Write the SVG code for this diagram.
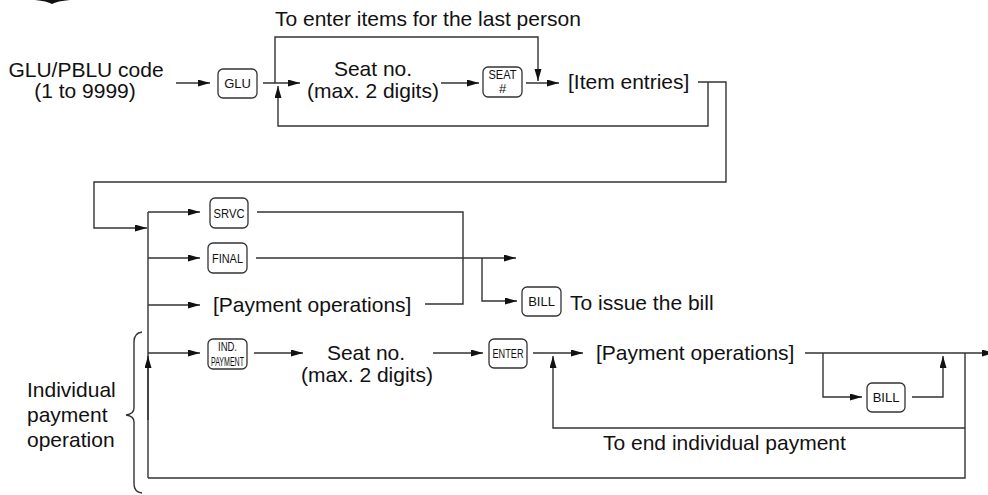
<svg xmlns="http://www.w3.org/2000/svg" width="988" height="495" viewBox="0 0 988 495">
<style>
  .t{font-family:"Liberation Sans",Arial,Helvetica,sans-serif;font-size:21px;fill:#111}
  .c{text-anchor:middle}
  .k{fill:#fff;stroke:#333;stroke-width:1.3}
  .kt{font-family:"Liberation Sans",Arial,Helvetica,sans-serif;font-size:13px;fill:#111;text-anchor:middle}
  .ln{fill:none;stroke:#333;stroke-width:1.4}
</style>
<defs>
  <marker id="ah" markerUnits="userSpaceOnUse" markerWidth="13" markerHeight="8" refX="12" refY="3.5" orient="auto">
    <path d="M0,0 L12,3.5 L0,7 z" fill="#111"/>
  </marker>
</defs>
<rect width="988" height="495" fill="#fff"/>
<path d="M35,0 L70,0 Q57,1 52,4 Q47,1 35,0 Z" fill="#111"/>

<g id="connectors" class="ln">
  <path d="M176,83 H210" marker-end="url(#ah)"/>
  <path d="M263,83 H300" marker-end="url(#ah)"/>
  <path d="M275,83 V37 H538 V81" marker-end="url(#ah)"/>
  <path d="M441,83 H479" marker-end="url(#ah)"/>
  <path d="M526,83 H559" marker-end="url(#ah)"/>
  <path d="M698,82 H726 V182 H94 V228 H147" marker-end="url(#ah)"/>
  <path d="M708,82 V126 H278 V86" marker-end="url(#ah)"/>
  <path d="M148,212 V478"/>
  <path d="M148,212 H200" marker-end="url(#ah)"/>
  <path d="M148,258 H200" marker-end="url(#ah)"/>
  <path d="M148,305 H200" marker-end="url(#ah)"/>
  <path d="M148,353 H200" marker-end="url(#ah)"/>
  <path d="M148,420 V356" marker-end="url(#ah)"/>
  <path d="M257,212 H463 V304 H425"/>
  <path d="M256,258 H516" marker-end="url(#ah)"/>
  <path d="M482,258 V301 H517" marker-end="url(#ah)"/>
  <path d="M254,353 H303" marker-end="url(#ah)"/>
  <path d="M433,353 H483" marker-end="url(#ah)"/>
  <path d="M533,353 H583" marker-end="url(#ah)"/>
  <path d="M965,428 H553 V356" marker-end="url(#ah)"/>
  <path d="M805,353 H994" marker-end="url(#ah)"/>
  <path d="M823,353 V397 H862" marker-end="url(#ah)"/>
  <path d="M912,397 H943 V356" marker-end="url(#ah)"/>
  <path d="M965,353 V478 H148"/>
</g>

<g id="label-last-person"><text class="t" x="275" y="26">To enter items for the last person</text></g>
<g id="glu-code"><text class="t c" x="86" y="77">GLU/PBLU code</text><text class="t c" x="85" y="98">(1 to 9999)</text></g>
<g id="key-glu"><rect class="k" x="218" y="69" width="39" height="29" rx="5"/><text class="kt" x="237.5" y="88">GLU</text></g>
<g id="seat-no-1"><text class="t c" x="373" y="76">Seat no.</text><text class="t c" x="373" y="98">(max. 2 digits)</text></g>
<g id="key-seat"><rect class="k" x="483" y="67" width="39" height="30" rx="5"/><text class="kt" x="502.5" y="79" font-size="12" textLength="28" lengthAdjust="spacingAndGlyphs">SEAT</text><text class="kt" x="502.5" y="93" font-size="10">#</text></g>
<g id="item-entries"><text class="t" x="568" y="89">[Item entries]</text></g>

<g id="key-srvc"><rect class="k" x="210" y="198" width="38" height="30" rx="5"/><text class="kt" x="229" y="218" font-size="14" textLength="31" lengthAdjust="spacingAndGlyphs">SRVC</text></g>
<g id="key-final"><rect class="k" x="208" y="243" width="39" height="30" rx="5"/><text class="kt" x="227.5" y="263" font-size="14" textLength="31" lengthAdjust="spacingAndGlyphs">FINAL</text></g>
<g id="payment-ops-1"><text class="t" x="213" y="312">[Payment operations]</text></g>
<g id="key-bill-1"><rect class="k" x="522" y="287" width="39" height="29" rx="5"/><text class="kt" x="541.5" y="306">BILL</text></g>
<g id="issue-bill"><text class="t" x="570" y="310">To issue the bill</text></g>

<g id="key-ind-payment"><rect class="k" x="208" y="339" width="39" height="30" rx="5"/><text class="kt" x="227.5" y="351" font-size="10" textLength="19" lengthAdjust="spacingAndGlyphs">IND.</text><text class="kt" x="227.5" y="365.5" font-size="10" textLength="33" lengthAdjust="spacingAndGlyphs">PAYMENT</text></g>
<g id="seat-no-2"><text class="t c" x="366" y="360">Seat no.</text><text class="t c" x="367" y="382">(max. 2 digits)</text></g>
<g id="key-enter"><rect class="k" x="489" y="339" width="38" height="29" rx="5"/><text class="kt" x="508" y="358" font-size="14" textLength="31" lengthAdjust="spacingAndGlyphs">ENTER</text></g>
<g id="payment-ops-2"><text class="t" x="596" y="360">[Payment operations]</text></g>
<g id="key-bill-2"><rect class="k" x="867" y="383" width="38" height="29" rx="5"/><text class="kt" x="886" y="402">BILL</text></g>
<g id="end-individual"><text class="t" x="603" y="450">To end individual payment</text></g>

<g id="individual-payment">
  <path class="ln" d="M142,332 Q134,333 134,342 V408 Q134,414 126,415 Q134,416 134,422 V484 Q134,492 142,493"/>
  <text class="t" x="27" y="397">Individual</text>
  <text class="t" x="27" y="422">payment</text>
  <text class="t" x="27" y="447">operation</text>
</g>
</svg>
